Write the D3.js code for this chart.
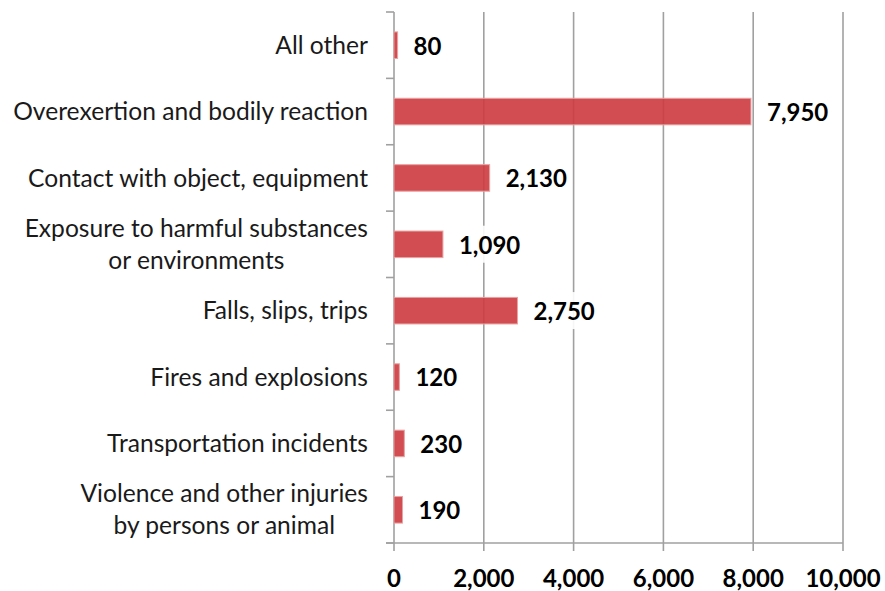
<!DOCTYPE html>
<html>
<head>
<meta charset="utf-8">
<script src="https://cdn.jsdelivr.net/npm/d3@7"></script>
<style>
  html, body { margin: 0; padding: 0; background: #fff; }
  svg { display: block; }
</style>
</head>
<body>
<svg id="chart" width="885" height="591"></svg>
<script>
const categories = [
  ["All other"],
  ["Overexertion and bodily reaction"],
  ["Contact with object, equipment"],
  ["Exposure to harmful substances", "or environments"],
  ["Falls, slips, trips"],
  ["Fires and explosions"],
  ["Transportation incidents"],
  ["Violence and other injuries", "by persons or animal"]
];
const values = [80, 7950, 2130, 1090, 2750, 120, 230, 190];
const xTicks = [0, 2000, 4000, 6000, 8000, 10000];

const svg = d3.select("#chart");
const margin = {left: 394, right: 42, top: 12, bottom: 48};
const W = 885, H = 591;
const x = d3.scaleLinear().domain([0, 10000]).range([margin.left, W - margin.right]);
const y = d3.scaleBand().domain(d3.range(categories.length)).range([margin.top, H - margin.bottom]).paddingInner(0.6).paddingOuter(0.3);
const yb = d3.scaleBand().domain(d3.range(categories.length)).range([margin.top, H - margin.bottom]);
const fmt = d3.format(",");
const gridColor = "#a0a0a0";
const font = "Lato, 'Open Sans', sans-serif";

// grid lines + bottom ticks
svg.append("g").selectAll("line").data(xTicks).join("line")
  .attr("x1", d => x(d)).attr("x2", d => x(d))
  .attr("y1", margin.top).attr("y2", H - margin.bottom + 8)
  .attr("stroke", gridColor).attr("stroke-width", 1.6);

// bottom axis line
svg.append("line")
  .attr("x1", margin.left - 8).attr("x2", x(10000))
  .attr("y1", H - margin.bottom).attr("y2", H - margin.bottom)
  .attr("stroke", gridColor).attr("stroke-width", 1.6);

// left category ticks
const bounds = d3.range(categories.length + 1).map(i => i < categories.length ? yb(i) : yb(categories.length - 1) + yb.bandwidth());
svg.append("g").selectAll("line").data(bounds).join("line")
  .attr("x1", margin.left - 8).attr("x2", margin.left)
  .attr("y1", d => d).attr("y2", d => d)
  .attr("stroke", gridColor).attr("stroke-width", 1.6);

// bars
svg.append("g").selectAll("rect").data(values).join("rect")
  .attr("x", x(0)).attr("y", (d, i) => y(i))
  .attr("width", d => x(d) - x(0)).attr("height", y.bandwidth())
  .attr("fill", "#cd3a3e").attr("fill-opacity", 0.9)
  .attr("stroke", "#e9a3a3").attr("stroke-width", 1);

// value labels with white boxes
const vl = svg.append("g").selectAll("g").data(values).join("g")
  .attr("transform", (d, i) => `translate(${x(d) + 16},${yb(i) + yb.bandwidth() / 2 + 1})`);
vl.append("text")
  .attr("dy", "0.35em")
  .attr("font-family", font).attr("font-weight", "bold").attr("font-size", 24)
  .attr("fill", "#000")
  .text(d => fmt(d));
vl.each(function() {
  const g = d3.select(this);
  const bb = g.select("text").node().getBBox();
  g.insert("rect", "text")
    .attr("x", bb.x - 5).attr("y", bb.y - 4)
    .attr("width", bb.width + 10).attr("height", bb.height + 8)
    .attr("fill", "#fff").attr("fill-opacity", 0.9);
});

// category labels
const cl = svg.append("g").selectAll("text").data(categories).join("text")
  .attr("text-anchor", "end")
  .attr("font-family", font).attr("font-size", 24.6).attr("fill", "#1a1a1a")
  .attr("transform", (d, i) => `translate(${margin.left - 26},${yb(i) + yb.bandwidth() / 2})`);
cl.each(function(lines) {
  const t = d3.select(this);
  const lh = 32;
  const n = lines.length;
  lines.forEach((ln, k) => {
    t.append("tspan").attr("x", 0)
      .attr("y", (k - (n - 1) / 2) * lh).attr("dy", "0.35em")
      .attr("text-anchor", n > 1 ? "middle" : "end")
      .text(ln);
  });
});
// center multi-line labels on widest line
cl.filter(d => d.length > 1).each(function() {
  const t = d3.select(this);
  const w = d3.max(t.selectAll("tspan").nodes(), n => n.getComputedTextLength());
  t.selectAll("tspan").attr("x", -w / 2);
});

// x tick labels
svg.append("g").selectAll("text").data(xTicks).join("text")
  .attr("x", d => x(d)).attr("y", H - 4)
  .attr("text-anchor", "middle")
  .attr("font-family", font).attr("font-weight", "bold").attr("font-size", 24)
  .attr("fill", "#000")
  .text(d => fmt(d));
</script>
</body>
</html>
